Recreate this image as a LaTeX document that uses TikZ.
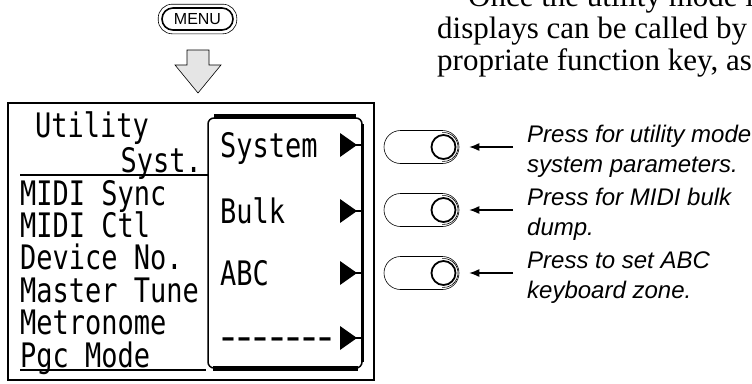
\documentclass[tikz,border=0pt]{standalone}
\usepackage{graphicx}
\usepackage{fontspec}
\usepackage{tikz}
\usetikzlibrary{arrows.meta, positioning, calc}

\newfontfamily\lcdfont{DejaVu Sans Mono}
\newfontfamily\notefont{Liberation Sans}
\newfontfamily\prosefont{Liberation Serif}
\newcommand\lcdtxt[1]{\scalebox{1}[1.25]{#1}}
\newcommand\lcddash{\makebox[16.25pt]{\scalebox{1.6}[1.5]{-}}}

\begin{document}
\begin{tikzpicture}[
  x=1pt, y=-1pt,
  lcdtext/.style={font=\lcdfont\fontsize{27}{30}\selectfont, inner sep=0, anchor=base west},
  note/.style={font=\notefont\itshape\fontsize{24}{28}\selectfont, inner sep=0, anchor=base west},
  prose/.style={font=\prosefont\fontsize{31}{32}\selectfont, inner sep=0, anchor=base west},
  menukey/.style={draw, line width=1.6pt, rounded corners=11pt, minimum width=71pt, minimum height=22pt, inner sep=0, font=\notefont\fontsize{16}{16}\selectfont},
  key/.style={draw, line width=0.6pt, rounded corners=16.5pt, minimum width=75pt, minimum height=33pt, inner sep=0},
  knob/.style={circle, draw, line width=1.8pt, minimum size=24pt, inner sep=0},
  ptr/.style={-{Latex[length=10pt,width=8pt]}, line width=1.2pt}
]
  \useasboundingbox (0,0) rectangle (752,383);

  % text running on from the page
  \node[prose] (p1) at (468,6) {Once the utility mode i};
  \node[prose] (p2) at (437,38) {displays can be called by};
  \node[prose] (p3) at (437,70) {propriate function key, as};

  % MENU key and the big arrow
  \node[menukey] (menu) at (197.5,19) {MENU};
  \draw[line width=0.6pt, rounded corners=14pt] ([shift={(-3,-3)}]menu.north west) rectangle ([shift={(3,3)}]menu.south east);
  \draw[fill=gray!20, line width=0.6pt] (187,50) -- (209,50) -- (209,65) -- (221,65) -- (198,93) -- (175,65) -- (187,65) -- cycle;

  % the display
  \draw[line width=1.2pt] (8,103) rectangle (374,380);
  \node[lcdtext] (title) at (35,137) {\lcdtxt{Utility}};
  \node[lcdtext, anchor=base east] (page) at (202,172) {\lcdtxt{Syst.}};
  \draw[line width=2.5pt] (20,175) -- (208,175);
  \foreach \t [count=\k from 0] in {MIDI Sync, MIDI Ctl, Device No., Master Tune, Metronome, Pgc Mode}
    \node[lcdtext] (item\k) at (20,205+32.4*\k) {\lcdtxt{\t}};
  \draw[line width=2.5pt] (20,370) -- (206,370);

  % function key panel
  \draw[line width=1.5pt, rounded corners=6pt] (208,118) rectangle (362,368);
  \draw[line width=4pt] (214,116) -- (356,116);
  \draw[line width=5pt] (213,368) -- (358,368);
  \draw[line width=3pt] (362,124) -- (362,362);
  \foreach \t/\yy [count=\k] in {System/145, Bulk/211, ABC/273} {
    \node[lcdtext] (fn\k) at (220,\yy+12) {\lcdtxt{\t}};
    \fill (340,\yy-12) -- (357,\yy) -- (340,\yy+12) -- cycle;
    \draw[line width=2pt] (356,\yy) -- (362,\yy);
  }
  \node[lcdtext] (fn4) at (220,350) {\lcddash\lcddash\lcddash\lcddash\lcddash\lcddash\lcddash};
  \fill (340,326) -- (357,338) -- (340,350) -- cycle;
  \draw[line width=2pt] (356,338) -- (362,338);

  % keys with notes
  \foreach \i/\yy/\first/\second in {1/147/{Press for utility mode}/{system parameters.},
      2/210/{Press for MIDI bulk}/{dump.}, 3/273/{Press to set ABC}/{keyboard zone.}} {
    \node[key] (btn\i) at (421.5,\yy) {};
    \node[knob] (knob\i) at (443.5,\yy) {};
    \draw[line width=0.6pt] ([shift={(95:14.5pt)}]knob\i.center) arc[start angle=95, end angle=-95, radius=14.5pt];
    \node[note] (la\i) at (527,\yy-5) {\first};
    \node[note] (lb\i) at (527,\yy+25.5) {\second};
    \coordinate (tail\i) at (513,\yy);
    \draw[ptr, shorten >=10pt] (tail\i) -- (btn\i.east);
  }
\end{tikzpicture}
\end{document}
